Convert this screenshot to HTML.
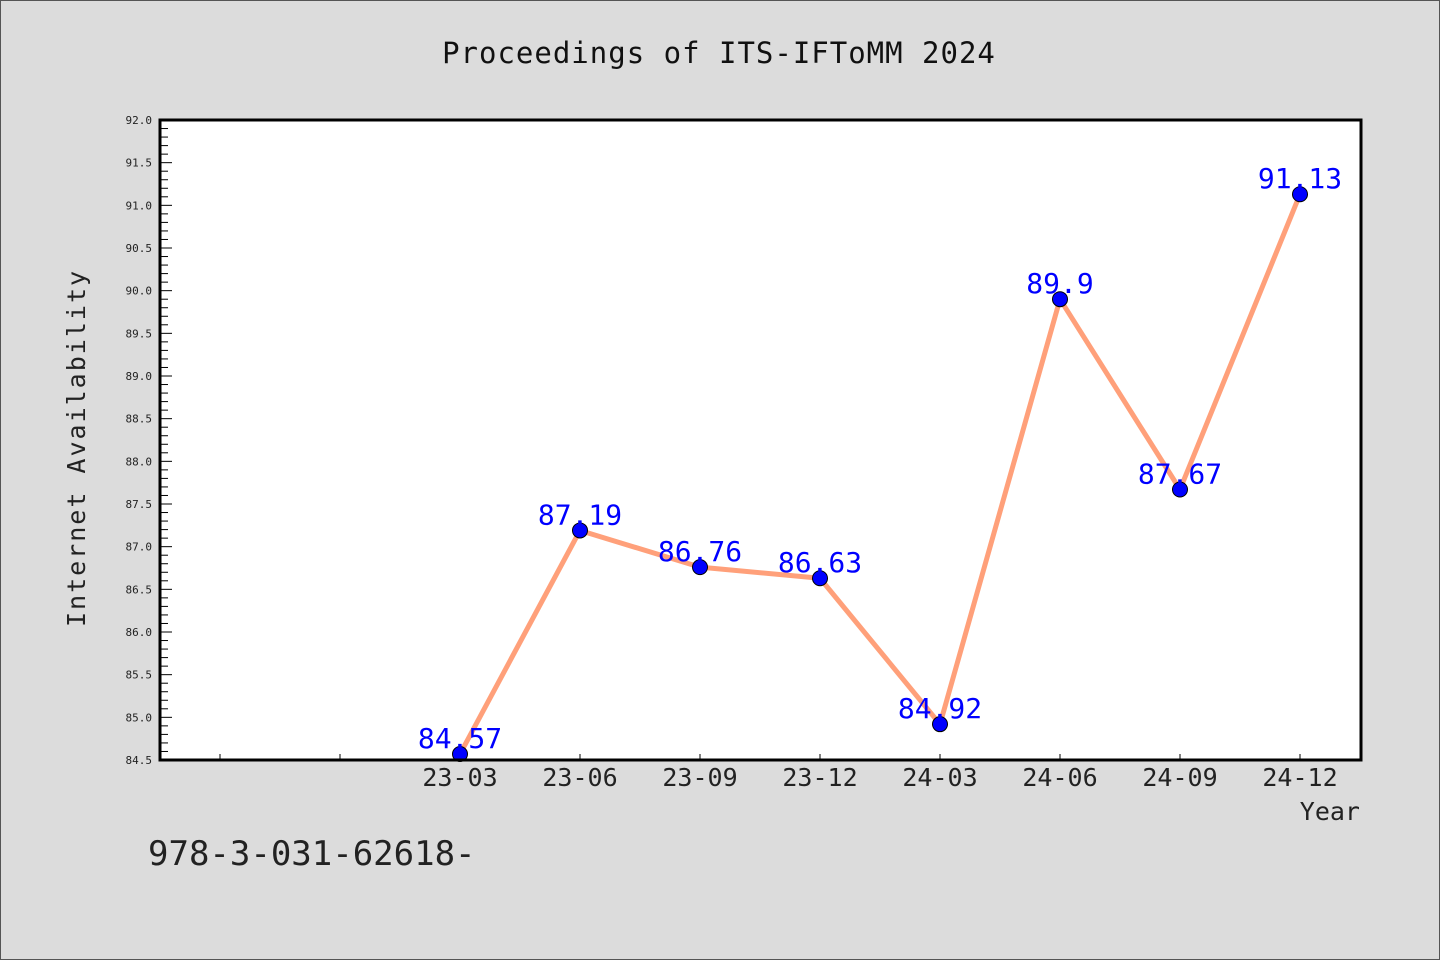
<!DOCTYPE html>
<html><head><meta charset="utf-8"><style>
body{margin:0;width:1440px;height:960px;overflow:hidden;background:#dcdcdc}
svg{display:block}
text{font-family:"WenQuanYi Zen Hei Mono","WenQuanYi Zen Hei","DejaVu Sans Mono",monospace}
</style></head><body>
<svg id="chart" width="1440" height="960" viewBox="0 0 1440 960" xmlns="http://www.w3.org/2000/svg">
<rect x="0.5" y="0.5" width="1439" height="959" fill="#dcdcdc" stroke="#555" stroke-width="1"/>
<text x="719" y="63" font-size="29" text-anchor="middle" fill="#111" letter-spacing="1">Proceedings of ITS-IFToMM 2024</text>
<rect x="160" y="120" width="1201" height="640" fill="#fff"/>
<g id="yaxis"></g>
<g id="xaxis"></g>
<g id="series"></g>
<rect x="160" y="120" width="1201" height="640" fill="none" stroke="#000" stroke-width="3"/>
<text transform="translate(85,448) rotate(-90)" font-size="25" text-anchor="middle" fill="#222" letter-spacing="2">Internet Availability</text>
<text x="1360" y="820" font-size="25" text-anchor="end" fill="#222">Year</text>
<text x="148" y="865" font-size="34" fill="#222">978-3-031-62618-</text>
</svg>
<script>
const categories=["","","23-03","23-06","23-09","23-12","24-03","24-06","24-09","24-12"];
const values=[null,null,84.57,87.19,86.76,86.63,84.92,89.9,87.67,91.13];
const valueLabels=["","","84.57","87.19","86.76","86.63","84.92","89.9","87.67","91.13"];
const yTicks=["84.5","85.0","85.5","86.0","86.5","87.0","87.5","88.0","88.5","89.0","89.5","90.0","90.5","91.0","91.5","92.0"];
(function(){
const NS="http://www.w3.org/2000/svg";
const yMin=84.5,yMax=92.0,plotTop=120,plotBot=760;
function y(v){return plotBot-(v-yMin)/(yMax-yMin)*(plotBot-plotTop);}
function x(i){return 220+i*120;}
function mk(t,a,p){const e=document.createElementNS(NS,t);for(const k in a)e.setAttribute(k,a[k]);p.appendChild(e);return e;}
const ya=document.getElementById('yaxis');
for(let k=0;k<=75;k++){const v=yMin+k*0.1;const yy=y(v);const major=k%5===0;
 const l=mk('line',{x1:160,x2:major?172:168,y1:yy,y2:yy,stroke:'#000','stroke-width':1},ya);
 
 }
yTicks.forEach(t=>{const e=mk('text',{x:152,y:y(parseFloat(t))+4,'font-size':11,'text-anchor':'end',fill:'#222'},ya);e.textContent=t;
 
 });
const xa=document.getElementById('xaxis');
categories.forEach((c,i)=>{const l=mk('line',{x1:x(i),x2:x(i),y1:plotBot,y2:plotBot-6,stroke:'#000','stroke-width':1},xa);
 
 
 if(c){const e=mk('text',{x:x(i),y:786,'font-size':25,'text-anchor':'middle',fill:'#222'},xa);e.textContent=c;
 
 }});
const s=document.getElementById('series');
let pts=[];values.forEach((v,i)=>{if(v!==null)pts.push(x(i)+','+y(v));});
const pl=mk('polyline',{points:pts.join(' '),fill:'none',stroke:'#ffa07a','stroke-width':5,'stroke-linejoin':'round'},s);


values.forEach((v,i)=>{if(v===null)return;
 const c=mk('circle',{cx:x(i),cy:y(v),r:7.5,fill:'#0000ff',stroke:'#000','stroke-width':1},s);
 
 
 const t=mk('text',{x:x(i),y:y(v)-6,'font-size':28,'text-anchor':'middle',fill:'#0000ff'},s);t.textContent=valueLabels[i];
 
 });
})();
</script>
</body></html>
